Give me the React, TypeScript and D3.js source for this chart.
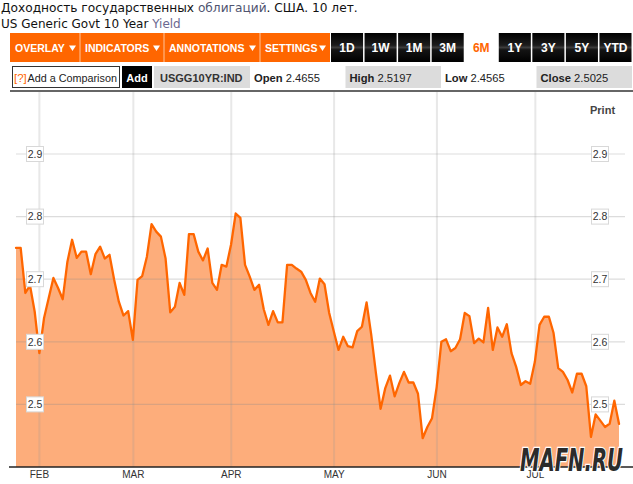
import React from 'react';
import * as d3 from 'd3';

// ---------- data ----------
const titleLine1 = ['Доходность государственных ', 'облигаций', '. США. 10 лет.'];
const titleLine2 = ['US Generic Govt 10 Year ', 'Yield'];

const menuLabels = ['OVERLAY', 'INDICATORS', 'ANNOTATIONS', 'SETTINGS'];
const rangeLabels = ['1D', '1W', '1M', '3M', '6M', '1Y', '3Y', '5Y', 'YTD'];
const activeRange = '6M';
const ticker = 'USGG10YR:IND';
const quoteLabels = ['Open', 'High', 'Low', 'Close'];
const quoteValues = ['2.4655', '2.5197', '2.4565', '2.5025'];

const yields = [
  2.750, 2.750, 2.678, 2.690, 2.648, 2.582, 2.638, 2.670, 2.702, 2.686,
  2.668, 2.728, 2.763, 2.734, 2.744, 2.744, 2.708, 2.740, 2.752, 2.733,
  2.739, 2.699, 2.664, 2.642, 2.649, 2.603, 2.699, 2.705, 2.736, 2.788,
  2.776, 2.768, 2.733, 2.647, 2.656, 2.694, 2.675, 2.772, 2.772, 2.744,
  2.730, 2.749, 2.694, 2.683, 2.723, 2.720, 2.755, 2.805, 2.798, 2.723,
  2.704, 2.683, 2.691, 2.652, 2.627, 2.649, 2.631, 2.631, 2.723, 2.723,
  2.717, 2.712, 2.699, 2.678, 2.664, 2.701, 2.692, 2.646, 2.616, 2.587,
  2.608, 2.593, 2.591, 2.617, 2.624, 2.663, 2.611, 2.550, 2.493, 2.526,
  2.546, 2.513, 2.534, 2.552, 2.535, 2.535, 2.517, 2.446, 2.464, 2.478,
  2.528, 2.600, 2.604, 2.585, 2.590, 2.604, 2.646, 2.641, 2.598, 2.605,
  2.599, 2.654, 2.587, 2.623, 2.608, 2.628, 2.582, 2.560, 2.531, 2.537,
  2.533, 2.568, 2.627, 2.640, 2.640, 2.614, 2.558, 2.552, 2.539, 2.519,
  2.549, 2.549, 2.529, 2.448, 2.484, 2.474, 2.464, 2.469, 2.506, 2.469,
];

const monthLabels = ['FEB', 'MAR', 'APR', 'MAY', 'JUN', 'JUL'];
const monthTickIndex = [5, 25.1, 46.05, 68.05, 90.05, 111.1];
const yTicks = [2.5, 2.6, 2.7, 2.8, 2.9];
const yDomain = [2.4, 2.9];

// ---------- layout ----------
const W = 633;
const H = 484;
const plotLeft = 16;
const plotRight = 619;
const gridRight = 625;
const plotTop = 92;
const axisY = 467;

const SANS = 'Arial, "Liberation Sans", sans-serif';
const VERD = '"DejaVu Sans", Verdana, sans-serif';

export default function App() {
  const x = d3.scaleLinear().domain([0, yields.length - 1]).range([plotLeft, plotRight]);
  const y = d3.scaleLinear().domain(yDomain).range([axisY, 154]);

  const area = d3
    .area<number>()
    .x((_, i) => x(i))
    .y0(y(yDomain[0]))
    .y1((d) => y(d));
  const line = d3
    .line<number>()
    .x((_, i) => x(i))
    .y((d) => y(d));

  const menuEdges = [10, 80, 164, 260, 330];
  const rangeX = d3.scaleLinear().domain([0, rangeLabels.length]).range([331, 633]);
  const quoteX = d3.scaleLinear().domain([0, 4]).range([250, 632]);

  return (
    <svg
      width={W}
      height={H}
      style={{ position: 'absolute', left: 0, top: 0, background: '#fff' }}
    >
      <defs>
        <linearGradient id="blk" x1="0" y1="0" x2="0" y2="1">
          <stop offset="0" stopColor="#000" />
          <stop offset="0.42" stopColor="#1c1c1c" />
          <stop offset="0.5" stopColor="#3c3c3c" />
          <stop offset="0.58" stopColor="#141414" />
          <stop offset="1" stopColor="#000" />
        </linearGradient>
      </defs>

      {/* Titles */}
      <text x={1} y={12} fontFamily={VERD} fontSize={12.2} fill="#111">
        <tspan>{titleLine1[0]}</tspan>
        <tspan fill="#4f5470">{titleLine1[1]}</tspan>
        <tspan>{titleLine1[2]}</tspan>
      </text>
      <text x={1} y={28} fontFamily={VERD} fontSize={12} fill="#111">
        <tspan>{titleLine2[0]}</tspan>
        <tspan fill="#6b6890">{titleLine2[1]}</tspan>
      </text>

      {/* Orange menu bar */}
      <rect x={10} y={33} width={320} height={29} fill="#ff6600" />
      {menuLabels.map((m, i) => {
        const x0 = menuEdges[i];
        const x1 = menuEdges[i + 1];
        return (
          <g key={m}>
            {i > 0 && <line x1={x0} x2={x0} y1={33} y2={62} stroke="#ffc39a" strokeWidth={1} />}
            <text
              x={x0 + 5}
              y={51.5}
              fontFamily={SANS}
              fontWeight="bold"
              fontSize={10.5}
              fill="#fff"
            >
              {m}
            </text>
            <path
              d={`M${x1 - 11},45.5 L${x1 - 4},45.5 L${x1 - 7.5},51 Z`}
              fill="#fff"
            />
          </g>
        );
      })}

      {/* Range buttons */}
      {rangeLabels.map((r, i) => {
        const x0 = rangeX(i);
        const w = rangeX(i + 1) - x0 - 1.5;
        const active = r === activeRange;
        return (
          <g key={r}>
            <rect x={x0} y={33} width={w} height={29} fill={active ? '#fff' : 'url(#blk)'} />
            <text
              x={x0 + w / 2}
              y={52}
              textAnchor="middle"
              fontFamily={SANS}
              fontWeight="bold"
              fontSize={12}
              fill={active ? '#ff6600' : '#fff'}
            >
              {r}
            </text>
          </g>
        );
      })}

      {/* Second row */}
      <rect x={12.5} y={66.5} width={107} height={21} fill="#fff" stroke="#333" strokeWidth={1} />
      <text x={14} y={81.5} fontFamily={SANS} fontSize={11.5} fill="#ff6600">
        [?]
      </text>
      <text x={27.5} y={81.5} fontFamily={SANS} fontSize={10.8} fill="#222">
        Add a Comparison
      </text>
      <rect x={122} y={66} width={30} height={22} fill="#000" />
      <text x={137} y={81.5} textAnchor="middle" fontFamily={SANS} fontWeight="bold" fontSize={11} fill="#fff">
        Add
      </text>
      <rect x={154} y={66} width={96} height={22} fill="#dcdcdc" />
      <text x={160} y={81.5} fontFamily={SANS} fontWeight="bold" fontSize={11} fill="#333">
        {ticker}
      </text>
      {quoteLabels.map((q, i) => {
        const x0 = quoteX(i);
        const x1 = quoteX(i + 1);
        const shaded = i % 2 === 1;
        return (
          <g key={q}>
            {shaded && <rect x={x0} y={66} width={x1 - x0} height={22} fill="#dcdcdc" />}
            <text x={x0 + 4} y={81.5} fontFamily={SANS} fontSize={11.2} fill="#222">
              <tspan fontWeight="bold">{q}</tspan>
              <tspan> {quoteValues[i]}</tspan>
            </text>
          </g>
        );
      })}
      <line x1={10} x2={633} y1={91} y2={91} stroke="#333" strokeWidth={1.7} />

      {/* Print */}
      <text x={590} y={114} fontFamily={SANS} fontWeight="bold" fontSize={11} fill="#444">
        Print
      </text>

      {/* Area */}
      <path d={area(yields) || ''} fill="#fdad7b" />

      {/* Gridlines on top of area */}
      {monthTickIndex.map((t, i) => (
        <line
          key={'v' + i}
          x1={x(t)}
          x2={x(t)}
          y1={plotTop}
          y2={axisY}
          stroke="rgba(150,150,150,0.22)"
          strokeWidth={2}
        />
      ))}
      {yTicks.map((t) => (
        <line
          key={'h' + t}
          x1={plotLeft}
          x2={gridRight}
          y1={y(t)}
          y2={y(t)}
          stroke="rgba(140,140,140,0.3)"
          strokeWidth={1.2}
        />
      ))}

      {/* Line */}
      <path
        d={line(yields) || ''}
        fill="none"
        stroke="#ff6600"
        strokeWidth={2.3}
        strokeLinejoin="round"
        strokeLinecap="round"
      />

      {/* Y labels, left & right */}
      {yTicks.map((t) =>
        [26, 591].map((bx) => (
          <g key={'yl' + t + bx}>
            <rect x={bx + 0.5} y={y(t) - 7.5} width={17} height={15} fill="#fff" stroke="#d8d8d8" strokeWidth={1} />
            <text
              x={bx + 9}
              y={y(t) + 3.8}
              textAnchor="middle"
              fontFamily={SANS}
              fontSize={10.5}
              fill="#333"
            >
              {d3.format('.1f')(t)}
            </text>
          </g>
        ))
      )}

      {/* Bottom axis */}
      <line x1={9} x2={633} y1={axisY} y2={axisY} stroke="#222" strokeWidth={1.5} />
      {monthLabels.map((m, i) => (
        <text
          key={m}
          x={x(monthTickIndex[i])}
          y={478}
          textAnchor="middle"
          fontFamily={SANS}
          fontSize={10}
          fill="#333"
        >
          {m}
        </text>
      ))}

      {/* Watermark */}
      <text
        x={520}
        y={471}
        fontFamily={'"DejaVu Sans Condensed", "DejaVu Sans", sans-serif'}
        fontWeight="bold"
        fontStyle="italic"
        fontSize={32}
        textLength={103}
        lengthAdjust="spacingAndGlyphs"
        fill="#2b2b2b"
        stroke="#fff"
        strokeWidth={2.5}
        paintOrder="stroke"
      >
        MAFN.RU
      </text>
    </svg>
  );
}
